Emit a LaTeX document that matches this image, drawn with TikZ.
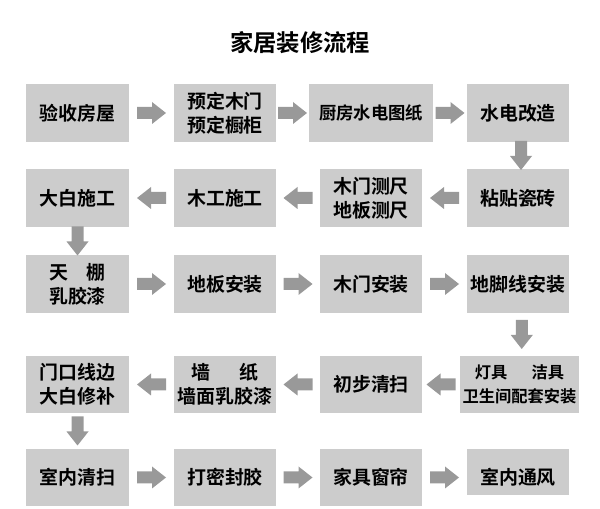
\documentclass[tikz,border=0pt]{standalone}
\usepackage{fontspec}
\setmainfont{Noto Sans CJK SC}[BoldFont={Noto Sans CJK SC Bold}]
\usetikzlibrary{calc,backgrounds}
\definecolor{boxgray}{RGB}{204,204,204}
\definecolor{arrowgray}{RGB}{153,153,153}
\begin{document}
\begin{tikzpicture}[x=0.75pt,y=-0.75pt,
  box/.style={fill=boxgray, inner sep=0pt, minimum width=76.5pt, minimum height=43.5pt,
    align=center, font=\fontsize{14.2pt}{18pt}\selectfont\bfseries},
  titletext/.style={inner sep=0pt, font=\fontsize{17.5pt}{20pt}\selectfont\bfseries},
  pics/rarrow/.style={code={\fill[arrowgray] (-14.5,-6) -- (0.5,-6) -- (0.5,-11) -- (14.5,0) -- (0.5,11) -- (0.5,6) -- (-14.5,6) -- cycle;}}]
\useasboundingbox (0,0) rectangle (600,509);

\node[titletext] (title) at (300,43) {家居装修流程};

% row 1
\node[box, minimum width=77.25pt] (n1) at (77.5,113) {验收房屋};
\node[box] (n2) at (225,113) {预定木门\\预定橱柜};
\node[box, minimum width=93pt, font=\fontsize{13pt}{18pt}\selectfont\bfseries] (n3) at (371,113) {厨房水电图纸};
\node[box] (n4) at (518,113) {水电改造};
% row 2
\node[box] (n5) at (518,198) {粘贴瓷砖};
\node[box] (n6) at (371,198) {木门测尺\\地板测尺};
\node[box] (n7) at (225,198) {木工施工};
\node[box, minimum width=77.25pt] (n8) at (77.5,198) {大白施工};
% row 3
\node[box, minimum width=77.25pt] (n9) at (77.5,284) {天\hspace{1em}棚\\乳胶漆};
\node[box] (n10) at (225,284) {地板安装};
\node[box] (n11) at (371,284) {木门安装};
\node[box] (n12) at (518,284) {地脚线安装};
% row 4
\node[box, minimum width=89.25pt, minimum height=42.75pt, font=\fontsize{12.2pt}{18pt}\selectfont\bfseries] (n13) at (519.5,384.5) {灯具\hspace{1.5em}洁具\\卫生间配套安装};
\node[box, minimum height=42.75pt] (n14) at (371,384.5) {初步清扫};
\node[box, minimum height=42.75pt] (n15) at (225,384.5) {墙\hspace{1.5em}纸\\墙面乳胶漆};
\node[box, minimum width=77.25pt, minimum height=42.75pt] (n16) at (77.5,384.5) {门口线边\\大白修补};
% row 5
\node[box, minimum width=77.25pt, minimum height=42.75pt] (n17) at (77.5,477.5) {室内清扫};
\node[box, minimum height=42.75pt] (n18) at (225,477.5) {打密封胶};
\node[box, minimum height=42.75pt] (n19) at (371,477.5) {家具窗帘};
\node[box, fill=none, minimum height=42.75pt] (n20) at (518,477.5) {室内通风};
\begin{scope}[on background layer]
  \fill[boxgray] (n20.north west) rectangle ([yshift=8.25pt]n20.south east);
\end{scope}

% arrows
\pic at ($(n1.east)!0.5!(n2.west)$) {rarrow};
\pic at ($(n2.east)!0.5!(n3.west)$) {rarrow};
\pic at ($(n3.east)!0.5!(n4.west)$) {rarrow};
\pic[rotate=-90] at ($(n4.south)!0.5!(n5.north)+(3,0)$) {rarrow};
\pic[rotate=180] at ($(n5.west)!0.5!(n6.east)$) {rarrow};
\pic[rotate=180] at ($(n6.west)!0.5!(n7.east)$) {rarrow};
\pic[rotate=180] at ($(n7.west)!0.5!(n8.east)$) {rarrow};
\pic[rotate=-90] at ($(n8.south)!0.5!(n9.north)$) {rarrow};
\pic at ($(n9.east)!0.5!(n10.west)$) {rarrow};
\pic at ($(n10.east)!0.5!(n11.west)$) {rarrow};
\pic at ($(n11.east)!0.5!(n12.west)$) {rarrow};
\pic[rotate=-90] at ($(n12.south)!0.5!(n13.north)+(3,0)$) {rarrow};
\pic[rotate=180] at ($(n13.west)!0.5!(n14.east)$) {rarrow};
\pic[rotate=180] at ($(n14.west)!0.5!(n15.east)$) {rarrow};
\pic[rotate=180] at ($(n15.west)!0.5!(n16.east)$) {rarrow};
\pic[rotate=-90] at ($(n16.south)!0.5!(n17.north)$) {rarrow};
\pic at ($(n17.east)!0.5!(n18.west)$) {rarrow};
\pic at ($(n18.east)!0.5!(n19.west)$) {rarrow};
\pic at ($(n19.east)!0.5!(n20.west)$) {rarrow};
\end{tikzpicture}
\end{document}
